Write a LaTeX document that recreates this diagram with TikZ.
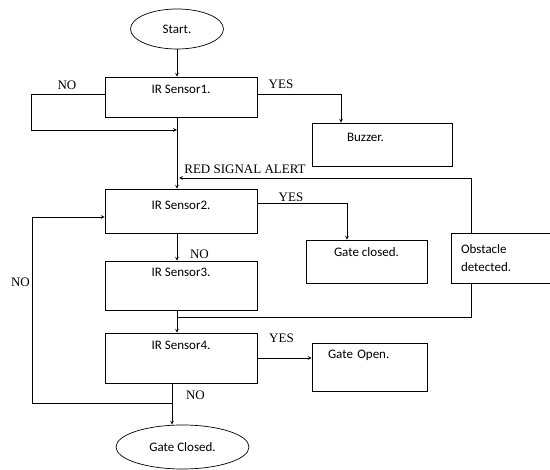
\documentclass[tikz,border=0pt]{standalone}
\usepackage{fontspec}
\setmainfont{Liberation Serif}
\newfontfamily\boxfont{Carlito}
\usetikzlibrary{shapes.geometric}
\begin{document}
\begin{tikzpicture}[x=1pt, y=-1pt, line width=0.7pt, >=stealth,
	term/.style={draw, ellipse, inner sep=0pt, font=\boxfont\fontsize{13}{15}\selectfont},
	sensor/.style 2 args={draw, rectangle, minimum width=152pt, inner ysep=0pt, text height=#1, text depth=#2, font=\boxfont\fontsize{13}{15}\selectfont},
	outbox/.style={draw, rectangle, inner ysep=0pt, align=left, font=\boxfont\fontsize{13}{15}\selectfont},
	lbl/.style={inner sep=0pt, font=\fontsize{13}{15}\selectfont}]
	\clip (0,0) rectangle (550,470);

	% Blocks
	\node[term, minimum width=93pt, minimum height=40pt] (start) at (177,29) {Start.};
	\node[sensor={17pt}{23pt}] (ir1) at (181,97) {IR Sensor1.};
	\node[outbox, inner xsep=35pt, text width=70pt, text height=19pt, text depth=24pt] (buzzer) at (382,144.5) {Buzzer.};
	\node[sensor={21pt}{23pt}] (ir2) at (181,211) {IR Sensor2.};
	\node[outbox, align=center, minimum width=121pt, text height=17pt, text depth=26pt] (gclosed) at (366.5,261.5) {Gate closed.};
	\node[outbox, inner xsep=10pt, text width=110pt, minimum height=50pt, font=\boxfont\fontsize{13}{18}\selectfont] (obst) at (516,258) {Obstacle\\detected.};
	\node[sensor={16pt}{33pt}] (ir3) at (181,285.5) {IR Sensor3.};
	\node[sensor={17pt}{33pt}] (ir4) at (181,358) {IR Sensor4.};
	\node[outbox, inner xsep=16pt, text width=83pt, text height=16pt, text depth=32pt] (gopen) at (369.5,367) {Gate Open.};
	\node[term, minimum width=133pt, minimum height=44pt] (gend) at (182.5,447) {Gate Closed.};

	% Labels
	\node[lbl] (no1) at (67,85.5) {NO};
	\node[lbl] (yes1) at (281,84) {YES};
	\node[lbl, anchor=west] (alert) at (184,169.5) {RED SIGNAL ALERT};
	\node[lbl] (yes2) at (291,197.5) {YES};
	\node[lbl] (no2) at (199.5,254.5) {NO};
	\node[lbl] (no3) at (20.5,282.5) {NO};
	\node[lbl] (yes3) at (281.5,338) {YES};
	\node[lbl] (no4) at (195.5,395) {NO};

	% Junctions
	\coordinate (j1) at (177,130);
	\coordinate (j2) at (179,178);
	\coordinate (o1) at (471,178);
	\coordinate (o2) at (471,317);
	\coordinate (j3) at (172,403);

	% Connectors
	\draw[->] (start.south) -- (start.south |- ir1.north);
	\draw[->] ([yshift=3pt]ir1.west) -- ++(-73,0) |- (j1);
	\draw[->] ([yshift=3pt]ir1.east) -| ([xshift=-41pt]buzzer.north);
	\draw[->] (ir1.south -| j1) -- (ir2.north -| j1);
	\draw[->] (obst.north -| o1) -- (o1) -- (j2);
	\draw (obst.south -| o2) -- (o2) -- (o2 -| j1);
	\draw[->] ([yshift=8pt]ir2.east) -| ([xshift=-19.5pt]gclosed.north);
	\draw[->] (ir2.south -| j1) -- (ir3.north -| j1);
	\draw[->] (ir3.south -| j1) -- (ir4.north -| j1);
	\draw[->] (ir4.east) -- (ir4.east -| gopen.west);
	\draw[->] (ir4.south -| j3) -- (gend.north -| j3);
	\draw[->] (j3) -- ++(-140,0) |- ([yshift=-6pt]ir2.west);
\end{tikzpicture}
\end{document}
